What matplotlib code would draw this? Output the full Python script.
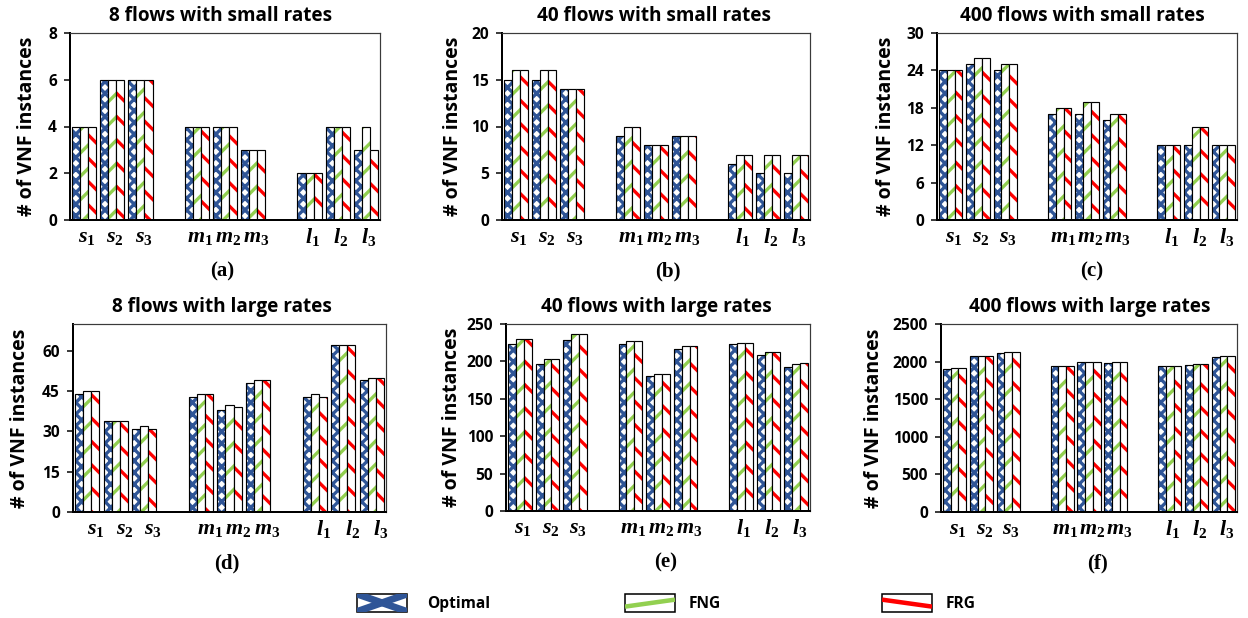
import matplotlib
matplotlib.use('Agg')
import matplotlib.pyplot as plt
from matplotlib.patches import Rectangle
from matplotlib.lines import Line2D
from matplotlib.legend_handler import HandlerBase
from matplotlib.transforms import ScaledTranslation
import numpy as np

W, H, DPI = 1248, 618, 140


def px(v):
    """pixels -> points at the output dpi"""
    return v * 72 / DPI


plt.rcParams['font.family'] = ['Open Sans', 'DejaVu Sans']
plt.rcParams['font.weight'] = 'bold'
plt.rcParams['hatch.linewidth'] = 1.7
plt.rcParams['mathtext.fontset'] = 'custom'
plt.rcParams['mathtext.it'] = 'Liberation Serif:italic:bold'
plt.rcParams['mathtext.rm'] = 'Liberation Serif:bold'
plt.rcParams['mathtext.bf'] = 'Liberation Serif:bold'

BLUE = '#2F5597'
GREEN = '#92D050'
RED = '#FF0000'

CATEGORIES = [r'$s_1$', r'$s_2$', r'$s_3$',
              r'$m_1$', r'$m_2$', r'$m_3$',
              r'$l_1$', r'$l_2$', r'$l_3$']
SERIES = ['Optimal', 'FNG', 'FRG']

# (a) 8 flows, small rates
A_OPT = [4, 6, 6, 4, 4, 3, 2, 4, 3]
A_FNG = [4, 6, 6, 4, 4, 3, 2, 4, 4]
A_FRG = [4, 6, 6, 4, 4, 3, 2, 4, 3]
# (b) 40 flows, small rates
B_OPT = [15, 15, 14, 9, 8, 9, 6, 5, 5]
B_FNG = [16, 16, 14, 10, 8, 9, 7, 7, 7]
B_FRG = [16, 16, 14, 10, 8, 9, 7, 7, 7]
# (c) 400 flows, small rates
C_OPT = [24, 25, 24, 17, 17, 16, 12, 12, 12]
C_FNG = [24, 26, 25, 18, 19, 17, 12, 15, 12]
C_FRG = [24, 26, 25, 18, 19, 17, 12, 15, 12]
# (d) 8 flows, large rates
D_OPT = [44, 34, 31, 43, 38, 48, 43, 62, 49]
D_FNG = [45, 34, 32, 44, 40, 49, 44, 62, 50]
D_FRG = [45, 34, 31, 44, 39, 49, 43, 62, 50]
# (e) 40 flows, large rates
E_OPT = [223, 197, 228, 223, 180, 216, 223, 209, 193]
E_FNG = [230, 203, 236, 227, 183, 220, 225, 213, 197]
E_FRG = [230, 203, 236, 227, 183, 220, 224, 213, 198]
# (f) 400 flows, large rates
F_OPT = [1905, 2070, 2120, 1940, 1990, 1985, 1940, 1955, 2065]
F_FNG = [1915, 2080, 2130, 1942, 1997, 1993, 1942, 1962, 2070]
F_FRG = [1915, 2080, 2130, 1945, 1997, 1993, 1942, 1962, 2070]

PANELS = [
    ('8 flows with small rates', '(a)', A_OPT, A_FNG, A_FRG, 8, 2),
    ('40 flows with small rates', '(b)', B_OPT, B_FNG, B_FRG, 20, 5),
    ('400 flows with small rates', '(c)', C_OPT, C_FNG, C_FRG, 30, 6),
    ('8 flows with large rates', '(d)', D_OPT, D_FNG, D_FRG, 70, 15),
    ('40 flows with large rates', '(e)', E_OPT, E_FNG, E_FRG, 250, 50),
    ('400 flows with large rates', '(f)', F_OPT, F_FNG, F_FRG, 2500, 500),
]

# layout in pixels: axes box (left, top, right, bottom), title x, ylabel x,
# panel-label x, horizontal nudge of the category labels
BOXES = [(70, 33, 380, 220), (502, 33, 810, 220), (937, 33, 1237, 220),
         (73, 324, 386, 512), (506, 324, 810, 511), (941, 324, 1237, 512)]
TITLE_X = [221, 654, 1082, 222, 656, 1090]
YLAB_X = [27, 453, 886, 20, 452, 874]
TAG_X = [222, 668, 1092, 227, 666, 1097]
LABEL_NUDGE = [3, 3, 3, 9, 3, 3]


def fx(x):
    return x / W


def fy(y):
    return 1 - y / H


class SwatchHandler(HandlerBase):
    def __init__(self, color, kind):
        super().__init__()
        self.color = color
        self.kind = kind

    def create_artists(self, legend, orig_handle, xdescent, ydescent,
                       width, height, fontsize, trans):
        x0, y0 = -xdescent, -ydescent
        arts = [Rectangle((x0, y0), width, height, facecolor='white',
                          edgecolor='black', lw=0.8, transform=trans)]
        if self.kind == 'x':
            segs = [((0, 0), (1, 1)), ((0, 1), (1, 0))]
            lw = px(7)
        elif self.kind == 'up':
            segs = [((0, 0.28), (1, 0.68))]
            lw = px(4.5)
        else:
            segs = [((0, 0.68), (1, 0.28))]
            lw = px(4.5)
        for (xa, ya), (xb, yb) in segs:
            line = Line2D([x0 + xa * width, x0 + xb * width],
                          [y0 + ya * height, y0 + yb * height],
                          color=self.color, lw=lw, solid_capstyle='butt',
                          transform=trans)
            line.set_clip_path(arts[0])
            arts.append(line)
        return arts


fig = plt.figure(figsize=(W / DPI, H / DPI), dpi=DPI)

pos = np.array([i + i // 3 for i in range(len(CATEGORIES))])
bw = 0.285

for i, (title, tag, opt, fng, frg, ymax, step) in enumerate(PANELS):
    l, t, r, b = BOXES[i]
    ax = fig.add_axes([fx(l), fy(b), (r - l) / W, (b - t) / H])
    for k, (vals, color, hatch) in enumerate([(opt, BLUE, 'xxxx'),
                                              (fng, GREEN, '//'),
                                              (frg, RED, '\\\\')]):
        x = pos + (k - 1) * bw
        ax.bar(x, vals, bw, color='white', edgecolor=color, hatch=hatch,
               linewidth=0)
        ax.bar(x, vals, bw, fill=False, edgecolor='black', linewidth=0.6)
    ax.set_xlim(-0.5, pos[-1] + 0.5)
    ax.set_ylim(0, ymax)
    ax.set_yticks(np.arange(0, ymax + 1e-9, step))
    ax.set_xticks(pos, CATEGORIES)
    ax.tick_params(axis='x', length=0, labelsize=px(22), pad=px(6))
    ax.tick_params(axis='y', direction='out', length=px(6), width=px(1.5),
                   labelsize=px(15.5), pad=px(7))
    shift = ScaledTranslation(LABEL_NUDGE[i] / DPI, 0, fig.dpi_scale_trans)
    for lab in ax.get_xticklabels():
        lab.set_transform(lab.get_transform() + shift)
    for side in ('left', 'bottom'):
        ax.spines[side].set_linewidth(px(2))
        ax.spines[side].set_color('black')
    for side in ('top', 'right'):
        ax.spines[side].set_linewidth(px(1.2))
        ax.spines[side].set_color('#3a3a3a')

    fig.text(fx(TITLE_X[i]), fy(t - 17), title, ha='center', va='center',
             fontsize=px(19), fontweight='bold')
    fig.text(fx(YLAB_X[i]), fy((t + b) / 2), '# of VNF instances',
             rotation=90, ha='center', va='center', fontsize=px(19.5),
             fontweight='bold')
    fig.text(fx(TAG_X[i]), fy(b + 51), tag, ha='center', va='center',
             fontsize=px(21), fontweight='bold', family='Liberation Serif')

# legend, one entry at a time so each sits where the original has it
kinds = ['x', 'up', 'down']
colors = [BLUE, GREEN, RED]
legend_x = [357, 625, 882]
text_pad = [1.3, 0.85, 0.9]
for name, kind, color, lx, tp in zip(SERIES, kinds, colors, legend_x, text_pad):
    handle = Rectangle((0, 0), 1, 1)
    fig.legend([handle], [name], loc='center left',
               bbox_to_anchor=(fx(lx), fy(603)), frameon=False,
               handlelength=50 / 15.5, handleheight=21 / 15.5,
               handletextpad=tp, borderpad=0, borderaxespad=0,
               handler_map={handle: SwatchHandler(color, kind)},
               prop={'weight': 'bold', 'size': px(15.5)})

fig.savefig('out.png', dpi=DPI, facecolor='white')
